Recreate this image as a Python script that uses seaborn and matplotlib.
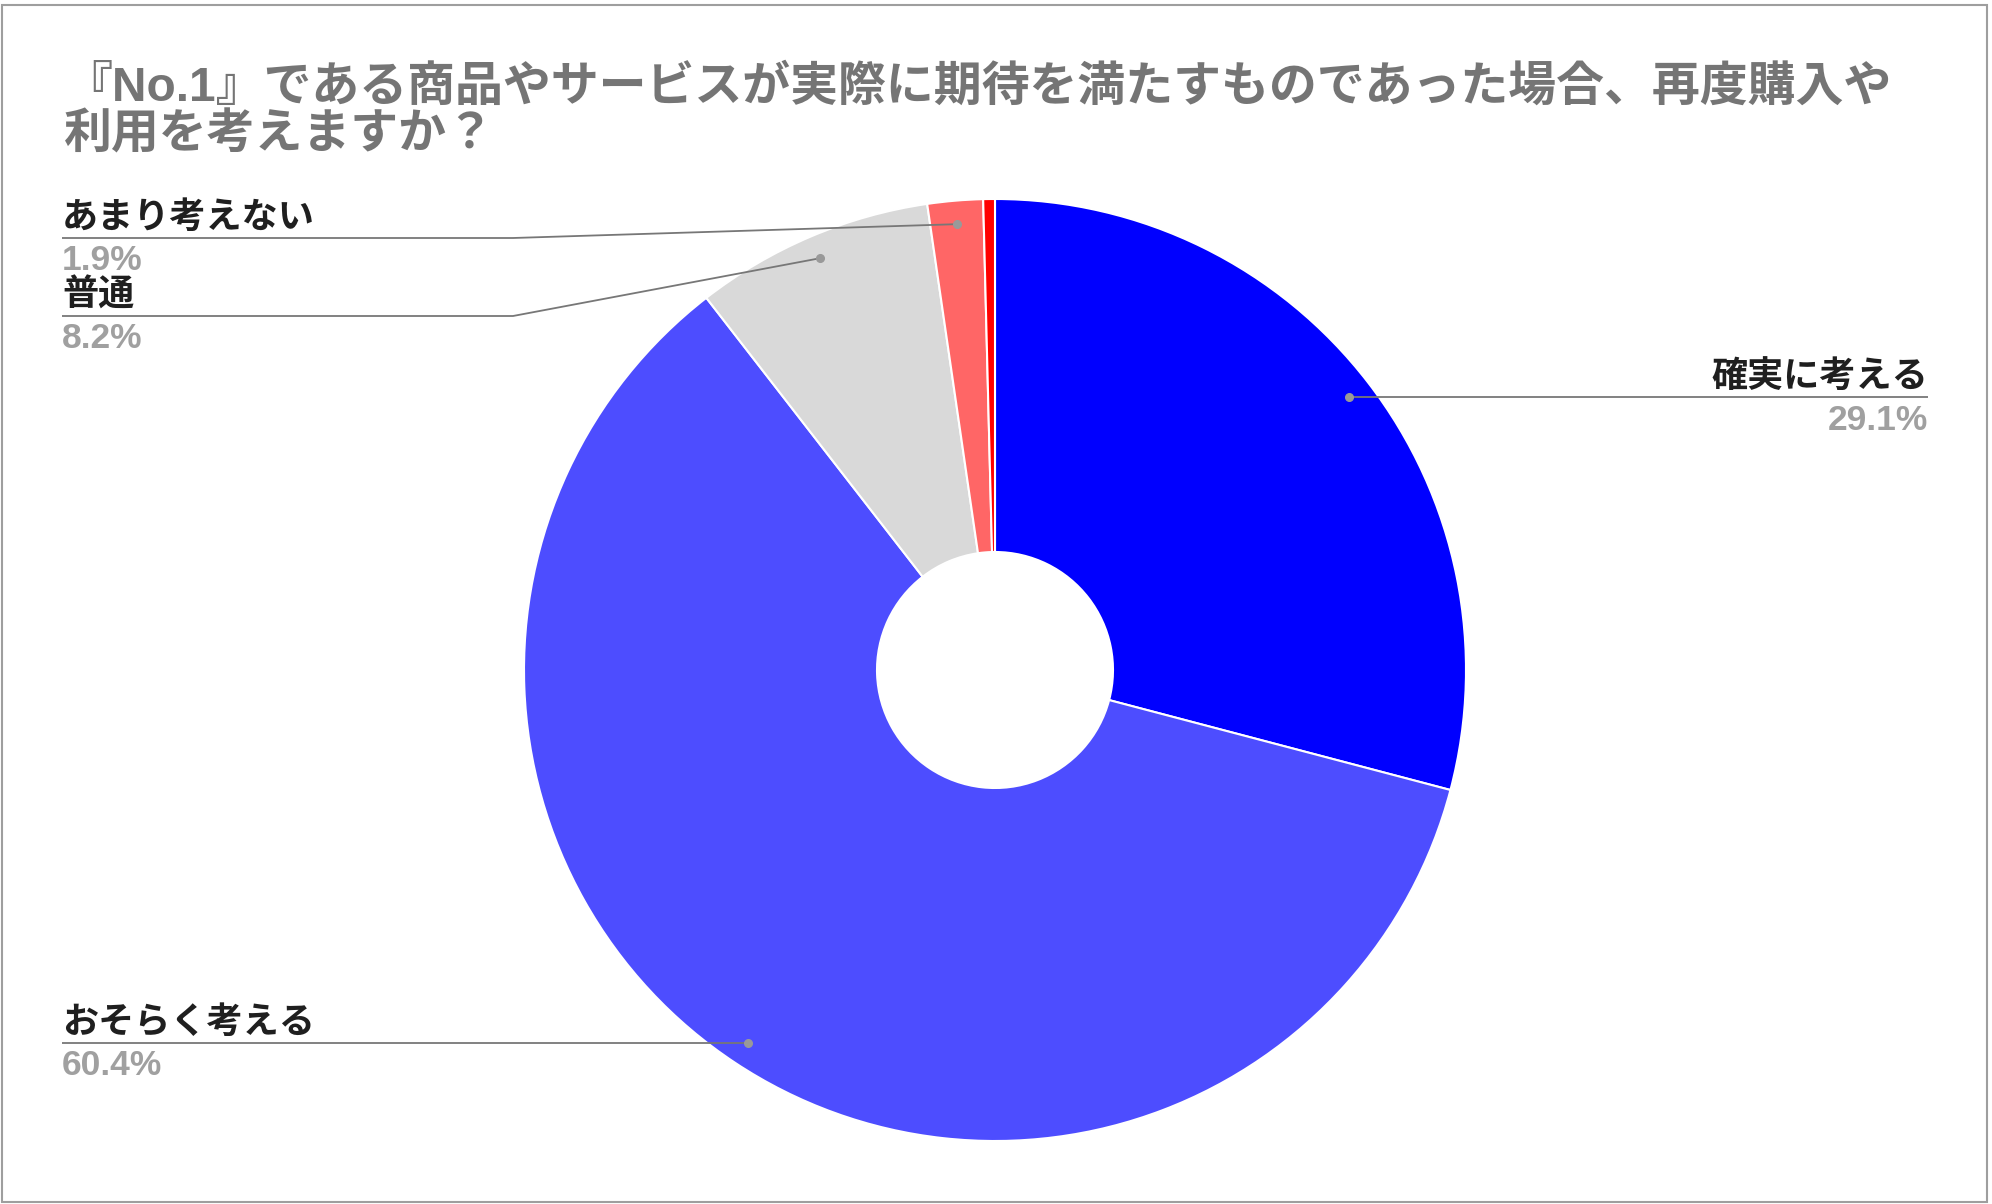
import numpy as np
import matplotlib
matplotlib.use("Agg")
import matplotlib.pyplot as plt
from matplotlib.patches import Rectangle
import seaborn as sns

# ---- data ----
categories = ["確実に考える", "おそらく考える", "普通", "あまり考えない", "全く考えない"]
values = [29.1, 60.4, 8.2, 1.9, 0.4]
pct_labels = ["29.1%", "60.4%", "8.2%", "1.9%", "0.4%"]
colors = ["#0000FF", "#4D4DFF", "#D9D9D9", "#FF6666", "#FF0000"]
title_lines = ["『No.1』である商品やサービスが実際に期待を満たすものであった場合、再度購入や",
               "利用を考えますか？"]

sns.set_theme(style="white")
plt.rcParams["font.family"] = ["Liberation Sans", "Noto Sans CJK JP", "DejaVu Sans"]

W, H = 1992, 1204
fig = plt.figure(figsize=(W / 100, H / 100), dpi=100)
fig.patch.set_facecolor("white")
ax = fig.add_axes([0, 0, 1, 1])

cx, cy, R, r_in = 995, 670, 471, 118
palette = sns.color_palette(colors)
wedges, _ = ax.pie(values, colors=palette, startangle=-90, counterclock=True,
                   center=(cx, cy), radius=R,
                   wedgeprops=dict(width=R - r_in, edgecolor="white", linewidth=1.5))
ax.set_xlim(0, W)
ax.set_ylim(H, 0)
ax.set_aspect("equal")
ax.axis("off")

# title
for i, line in enumerate(title_lines):
    ax.text(64, 101 + 47 * i, line, fontsize=34.5, fontweight="bold", color="#757575",
            ha="left", va="baseline")

# label layout: (side, line_y, elbow_x)
layout = {
    0: ("right", 398, None),
    1: ("left", 1043, None),
    2: ("left", 316, 513),
    3: ("left", 238, 513),
}
total = float(sum(values))
cum = np.cumsum([0] + values)
line_col = "#777777"
for i, (side, ly, ex) in layout.items():
    mid = (cum[i] + cum[i + 1]) / 2 / total
    theta = np.deg2rad(-90 + 360 * mid)
    dx = cx + 0.95 * R * np.cos(theta)
    dy = cy + 0.95 * R * np.sin(theta)
    if side == "right":
        xs, ys = [dx, 1928], [dy, dy]
        tx, ha = 1928, "right"
    else:
        if ex is None:
            xs, ys = [dx, 62], [dy, dy]
        else:
            xs, ys = [dx, ex, 62], [dy, ly, ly]
        tx, ha = 62, "left"
    ax.plot(xs, ys, color=line_col, lw=1.3, solid_capstyle="butt", zorder=3)
    ax.plot([dx], [dy], "o", color="#999999", ms=5.5, zorder=4)
    ax.text(tx, ly - 10, categories[i], fontsize=26, fontweight="bold", color="#1f1f1f",
            ha=ha, va="baseline")
    ax.text(tx, ly + 32, pct_labels[i], fontsize=25.5, fontweight="bold", color="#a0a0a0",
            ha=ha, va="baseline")

fig.patches.append(Rectangle((1.5, 2.5), 1985, 1197, transform=None, fill=False,
                             edgecolor="#9e9e9e", linewidth=1.5))

fig.savefig("out.png", dpi=100, facecolor="white")
